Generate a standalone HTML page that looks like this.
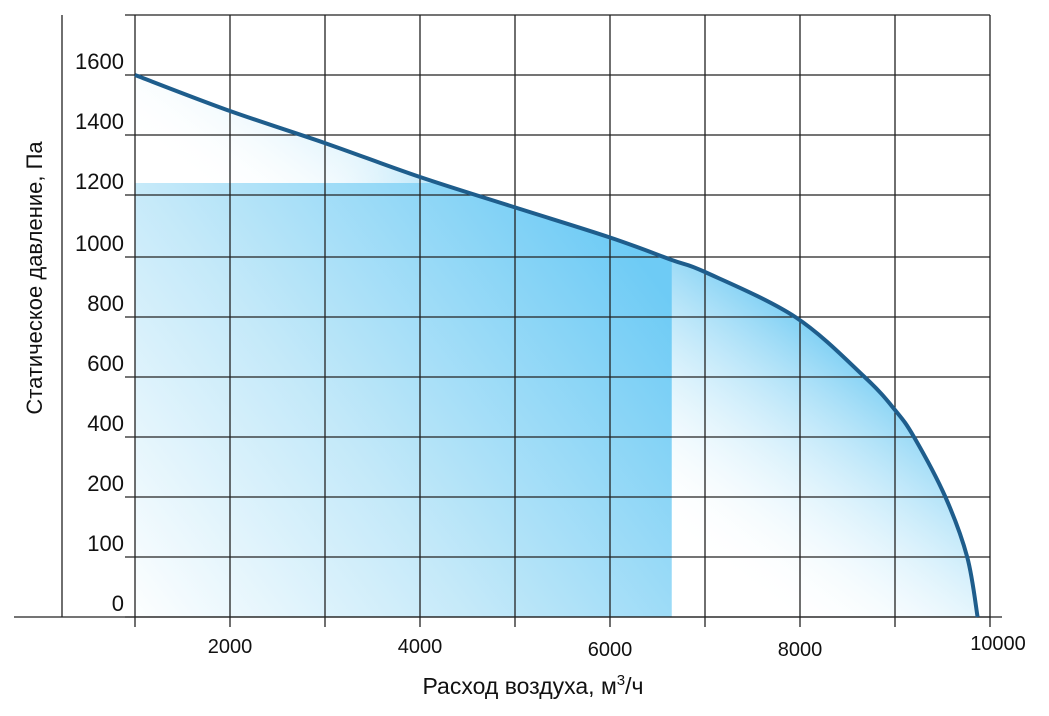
<!DOCTYPE html>
<html><head><meta charset="utf-8"><style>
body{margin:0;background:#fff;}
svg{display:block;font-family:"Liberation Sans",sans-serif;}
</style></head><body>
<svg id="chart" width="1049" height="716" viewBox="0 0 1049 716">
<defs>
<linearGradient id="gArea" gradientUnits="userSpaceOnUse" x1="820" y1="290" x2="650" y2="520">
<stop offset="0" stop-color="#5cc3f1"/><stop offset="1" stop-color="#ffffff" stop-opacity="0"/>
</linearGradient>
<linearGradient id="gArea2" gradientUnits="userSpaceOnUse" x1="470" y1="186" x2="330" y2="130">
<stop offset="0" stop-color="#9fdcf7"/><stop offset="1" stop-color="#ffffff" stop-opacity="0"/>
</linearGradient>
<linearGradient id="gRect" gradientUnits="userSpaceOnUse" x1="640" y1="260" x2="140" y2="640">
<stop offset="0" stop-color="#6ecbf5"/><stop offset="0.55" stop-color="#c4e9f9"/><stop offset="1" stop-color="#ffffff"/>
</linearGradient>
<clipPath id="under"><path id="clipPathEl" d=""/></clipPath>
<clipPath id="aboveRect"><rect x="0" y="0" width="700" height="187"/></clipPath>
</defs>
<g id="fills"></g>
<g id="grid"></g>
<g id="marks"></g>
<g id="labels"></g>
<text x="533" y="694" font-size="23" text-anchor="middle" fill="#111">Расход воздуха, м<tspan font-size="15" dy="-9">3</tspan><tspan dy="9">/ч</tspan></text>
<text transform="translate(42,278) rotate(-90)" font-size="22" text-anchor="middle" fill="#111">Статическое давление, Па</text>
</svg>
<script>
const xTicks=[2000,4000,6000,8000,10000];
const yTicks=[0,100,200,400,600,800,1000,1200,1400,1600];
const curveX=[1000,2000,3000,4000,5000,6000,6650,7000,7950,8680,9000,9200,9530,9760,9870];
const curveY=[1600,1480,1373,1260,1160,1063,990,950,800,600,490,400,200,100,0];
const rectX=[1000,6650];
const rectY=[0,1240];
const NS="http://www.w3.org/2000/svg";
function sx(v){return 135+(v-1000)*0.095;}
const yPix=[617,557,497,437,377,317,257,195,135,75];
function sy(v){
  for(let i=0;i<yTicks.length-1;i++){
    if(v<=yTicks[i+1]){const t=(v-yTicks[i])/(yTicks[i+1]-yTicks[i]);return yPix[i]+t*(yPix[i+1]-yPix[i]);}
  }
  const n=yTicks.length-1;return yPix[n]+(v-yTicks[n])*(yPix[n]-yPix[n-1])/(yTicks[n]-yTicks[n-1]);
}
function mk(tag,attrs,parent){const e=document.createElementNS(NS,tag);for(const k in attrs)e.setAttribute(k,attrs[k]);document.getElementById(parent).appendChild(e);return e;}
const pts=curveX.map((x,i)=>[sx(x),sy(curveY[i])]);
function smooth(p){
  let s="M"+p[0][0].toFixed(1)+","+p[0][1].toFixed(1);
  for(let i=0;i<p.length-1;i++){
    const p0=p[Math.max(i-1,0)],p1=p[i],p2=p[i+1],p3=p[Math.min(i+2,p.length-1)];
    const c1=[p1[0]+(p2[0]-p0[0])/6,p1[1]+(p2[1]-p0[1])/6];
    const c2=[p2[0]-(p3[0]-p1[0])/6,p2[1]-(p3[1]-p1[1])/6];
    s+=" C"+c1.map(n=>n.toFixed(1)).join(",")+" "+c2.map(n=>n.toFixed(1)).join(",")+" "+p2[0].toFixed(1)+","+p2[1].toFixed(1);
  }
  return s;
}
const lineD=smooth(pts);
const areaD=lineD+" L"+sx(curveX[0])+","+sy(0)+" Z";
document.getElementById('clipPathEl').setAttribute('d',areaD);
const areaEl=mk('path',{d:areaD,fill:'url(#gArea)'},'fills');


const area2=mk('path',{d:areaD,fill:'url(#gArea2)','clip-path':'url(#aboveRect)'},'fills');


const rectEl=mk('rect',{x:sx(rectX[0]),y:sy(rectY[1]),width:sx(rectX[1])-sx(rectX[0]),height:sy(rectY[0])-sy(rectY[1]),fill:'url(#gRect)','clip-path':'url(#under)'},'fills');


const vx=[1000,2000,3000,4000,5000,6000,7000,8000,9000,10000];
vx.forEach(v=>{const l=mk('line',{x1:sx(v),x2:sx(v),y1:15,y2:627,stroke:'#222','stroke-width':1.3},'grid');

});
const topLine=mk('line',{x1:125,x2:sx(10000),y1:15,y2:15,stroke:'#222','stroke-width':1.3},'grid');


yTicks.forEach(v=>{const l=mk('line',{x1:125,x2:sx(10000),y1:sy(v),y2:sy(v),stroke:'#222','stroke-width':1.3},'grid');


const t=mk('text',{x:124,y:sy(v)-6,'font-size':22,'text-anchor':'end',fill:'#111'},'labels');t.textContent=v;

});
const yAxisLine=mk('line',{x1:62,x2:62,y1:15,y2:617,stroke:'#222','stroke-width':1.3},'grid');


const xAxisLine=mk('line',{x1:14,x2:1002,y1:617,y2:617,stroke:'#222','stroke-width':1.3},'grid');


xTicks.forEach(v=>{const t=mk('text',{x:sx(v)+(v==10000?8:0),y:v==10000?650:v>=6000?656:653,'font-size':20,'text-anchor':'middle',fill:'#111'},'labels');t.textContent=v;

});
const curveEl=mk('path',{d:lineD,fill:'none',stroke:'#1e5d8c','stroke-width':4,'stroke-linejoin':'round'},'marks');


</script>
</body></html>
